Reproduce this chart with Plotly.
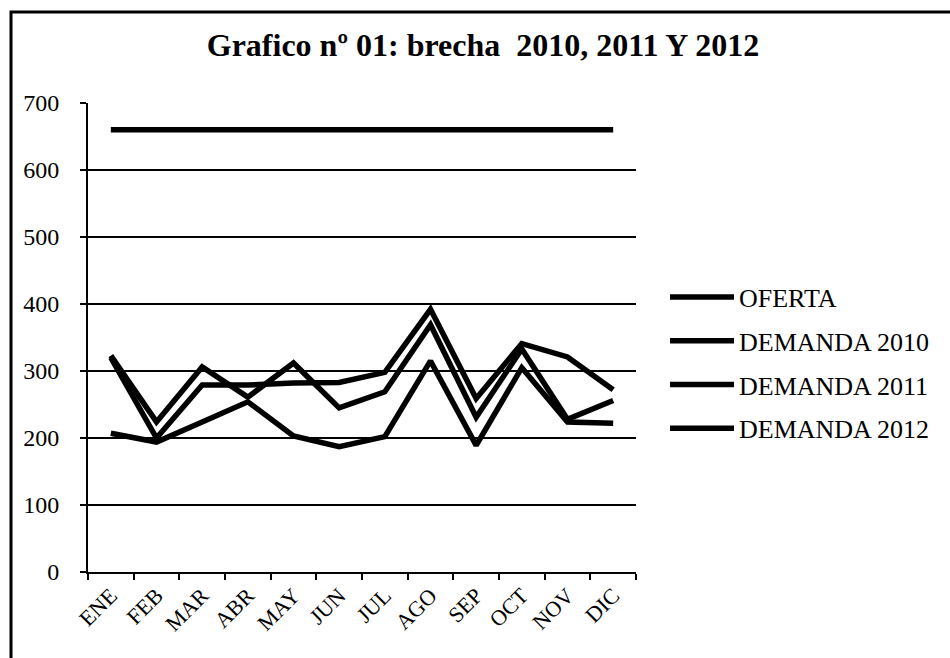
import plotly.graph_objects as go

months = ["ENE", "FEB", "MAR", "ABR", "MAY", "JUN", "JUL", "AGO", "SEP", "OCT", "NOV", "DIC"]
oferta = [660] * 12
demanda_2010 = [207, 194, 224, 254, 203, 187, 202, 315, 189, 305, 224, 222]
demanda_2011 = [323, 224, 306, 261, 312, 245, 269, 369, 231, 333, 228, 256]
demanda_2012 = [320, 200, 279, 279, 282, 283, 298, 392, 259, 341, 321, 272]

series = [
    ("OFERTA", oferta),
    ("DEMANDA 2010", demanda_2010),
    ("DEMANDA 2011", demanda_2011),
    ("DEMANDA 2012", demanda_2012),
]

FONT = "Liberation Serif"

fig = go.Figure()
for name, vals in series:
    fig.add_trace(go.Scatter(
        x=months, y=vals, name=name, mode="lines", legendgroup=name,
        line=dict(color="black", width=5.5),
    ))

fig.update_layout(
    width=950, height=658,
    margin=dict(l=88, r=314, t=103, b=86),
    paper_bgcolor="white", plot_bgcolor="white",
    font=dict(family=FONT, color="black"),
    title=dict(
        text="Grafico nº 01: brecha \u00a02010, 2011 Y 2012",
        x=483 / 950, xanchor="center", y=1 - 45 / 658, yanchor="middle",
        font=dict(family=FONT, size=32, color="black", weight="bold"),
    ),
    showlegend=True,
    legend=dict(
        x=(665 - 88) / 548, xanchor="left", y=(572 - 363) / 469, yanchor="middle",
        font=dict(family=FONT, size=26, color="black"),
        bgcolor="rgba(0,0,0,0)", tracegroupgap=7, itemwidth=64,
        traceorder="grouped",
    ),
    xaxis=dict(
        type="category", range=[-0.5, 11.5],
        showline=True, linecolor="black", linewidth=2,
        ticks="outside", tickson="boundaries", ticklen=6, tickcolor="black", tickwidth=2,
        tickangle=-45, tickfont=dict(family=FONT, size=22, color="black"),
        showgrid=False, zeroline=False,
    ),
    yaxis=dict(
        range=[0, 700], dtick=100,
        showline=True, linecolor="black", linewidth=2,
        ticks="outside", ticklen=6, tickcolor="black", tickwidth=2,
        ticklabelstandoff=16,
        tickfont=dict(family=FONT, size=24, color="black"),
        showgrid=True, gridcolor="black", gridwidth=1.5, zeroline=False,
    ),
    shapes=[
        dict(type="rect", xref="paper", yref="paper",
             x0=(11 - 88) / 548, x1=2.0, y0=-1.0, y1=(572 - 12) / 469,
             line=dict(color="black", width=3), fillcolor="rgba(0,0,0,0)", layer="below"),
    ],
)

fig.write_html("out.html")
